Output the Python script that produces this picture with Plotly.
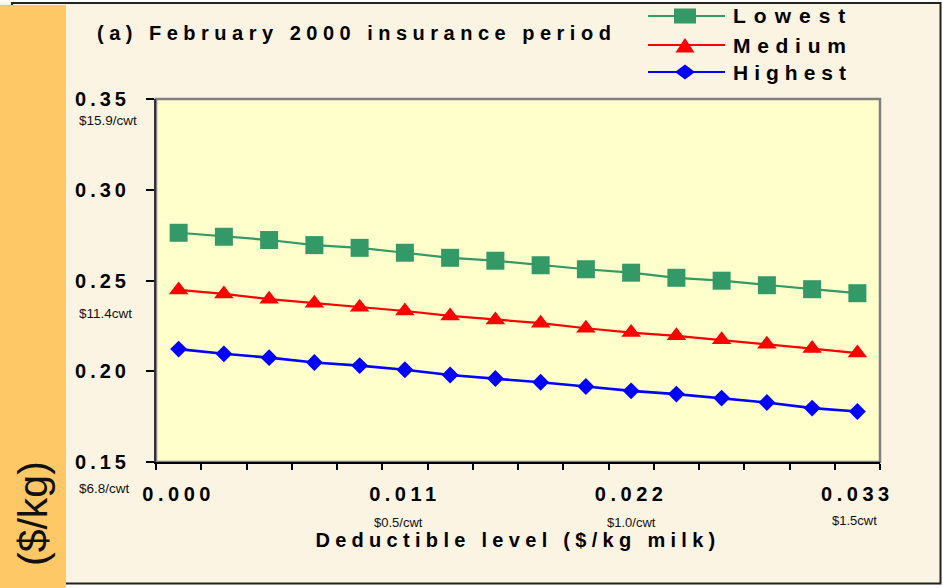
import plotly.graph_objects as go

# ---------------- data ----------------
deductible = [0.0000, 0.0022, 0.0044, 0.0066, 0.0088, 0.0110, 0.0132, 0.0154,
              0.0176, 0.0198, 0.0220, 0.0242, 0.0264, 0.0286, 0.0308, 0.0330]
lowest = [0.2763, 0.2741, 0.2723, 0.2695, 0.2680, 0.2653, 0.2625, 0.2609,
          0.2584, 0.2562, 0.2543, 0.2515, 0.2499, 0.2474, 0.2452, 0.2430]
medium = [0.2448, 0.2426, 0.2397, 0.2375, 0.2353, 0.2332, 0.2305, 0.2283,
          0.2265, 0.2237, 0.2213, 0.2195, 0.2173, 0.2149, 0.2125, 0.2100]
highest = [0.2122, 0.2096, 0.2075, 0.2048, 0.2031, 0.2008, 0.1979, 0.1960,
           0.1939, 0.1916, 0.1892, 0.1874, 0.1852, 0.1828, 0.1797, 0.1778]
series_names = ["Lowest", "Medium", "Highest"]

x_tick_vals = [0.000, 0.011, 0.022, 0.033]
x_tick_text = ["0.000", "0.011", "0.022", "0.033"]
x_sub_vals = [0.011, 0.022, 0.033]
x_sub_text = ["$0.5/cwt", "$1.0/cwt", "$1.5cwt"]
y_tick_vals = [0.15, 0.20, 0.25, 0.30, 0.35]
y_tick_text = ["0.15", "0.20", "0.25", "0.30", "0.35"]
y_sub_text = ["$15.9/cwt", "$11.4cwt", "$6.8/cwt"]

title_text = "(a) February 2000 insurance period"
x_title = "Deductible level ($/kg milk)"
y_side_text = "($/kg)"

# ---------------- geometry helpers (pixels -> paper) ----------------
W, H = 943, 588
L, R, T, B = 156, 63, 99, 126
PW, PH = W - L - R, H - T - B


def px(x):
    return (x - L) / PW


def py(y):
    return (H - B - y) / PH


def path(points):
    return "M " + " L ".join("%.5f,%.5f" % (px(a), py(b)) for a, b in points) + " Z"


FONT = "Liberation Sans, Arial, sans-serif"
CREAM = "#FCF4E3"
ORANGE = "#FEC866"

fig = go.Figure()
styles = [
    dict(color="#339966", symbol="square", size=18, lw=2.2),
    dict(color="#FF0000", symbol="triangle-up", size=17, lw=2.2),
    dict(color="#0000FF", symbol="diamond", size=13, lw=2.6),
]
for name, ys, st in zip(series_names, [lowest, medium, highest], styles):
    fig.add_trace(go.Scatter(
        x=deductible, y=ys, name=name, mode="lines+markers",
        line=dict(color=st["color"], width=st["lw"]),
        marker=dict(color=st["color"], symbol=st["symbol"], size=st["size"]),
        cliponaxis=False, showlegend=False,
    ))

shapes = [
    # white outer strips
    dict(type="rect", xref="paper", yref="paper", x0=px(-2), x1=px(W + 2), y0=py(-2), y1=py(2.2),
         fillcolor="white", line=dict(width=0), layer="below"),
    dict(type="rect", xref="paper", yref="paper", x0=px(941.5), x1=px(W + 2), y0=py(-2), y1=py(H + 2),
         fillcolor="white", line=dict(width=0), layer="below"),
    dict(type="rect", xref="paper", yref="paper", x0=px(-2), x1=px(W + 2), y0=py(584.5), y1=py(H + 2),
         fillcolor="white", line=dict(width=0), layer="below"),
    # outer frame
    dict(type="rect", xref="paper", yref="paper", x0=px(12), x1=px(940.5), y0=py(3), y1=py(583.5),
         line=dict(color="#222222", width=2), layer="below"),
    # orange side bar
    dict(type="rect", xref="paper", yref="paper", x0=px(-2), x1=px(66), y0=py(5), y1=py(H + 2),
         fillcolor=ORANGE, line=dict(width=0), layer="below"),
    # plot-area gray border (top/right)
    dict(type="rect", xref="paper", yref="paper", x0=0, x1=1, y0=0, y1=1,
         line=dict(color="#808080", width=2.5), layer="below"),
]

# hand-drawn legend keys (line + symbol)
leg_rows = [16, 45, 72]
leg_text_rows = [15, 46, 72]
leg_x0, leg_x1, leg_xm, leg_tx = 648, 725, 685, 731
for st, yy in zip(styles, leg_rows):
    shapes.append(dict(type="line", xref="paper", yref="paper", x0=px(leg_x0), x1=px(leg_x1),
                       y0=py(yy), y1=py(yy), line=dict(color=st["color"], width=2.2), layer="below"))
c0, c1, c2 = styles[0]["color"], styles[1]["color"], styles[2]["color"]
y0, y1, y2 = leg_rows
shapes.append(dict(type="rect", xref="paper", yref="paper",
                   x0=px(leg_xm - 11), x1=px(leg_xm + 11), y0=py(y0 - 7.5), y1=py(y0 + 7.5),
                   fillcolor=c0, line=dict(width=0), layer="below"))
shapes.append(dict(type="path", xref="paper", yref="paper",
                   path=path([(leg_xm - 9.5, y1 + 7.5), (leg_xm + 9.5, y1 + 7.5), (leg_xm, y1 - 7)]),
                   fillcolor=c1, line=dict(width=0), layer="below"))
shapes.append(dict(type="path", xref="paper", yref="paper",
                   path=path([(leg_xm - 10, y2), (leg_xm, y2 - 7.5), (leg_xm + 10, y2), (leg_xm, y2 + 7.5)]),
                   fillcolor=c2, line=dict(width=0), layer="below"))

annotations = []
for name, yy in zip(series_names, leg_text_rows):
    annotations.append(dict(x=px(leg_tx), xref="paper", y=py(yy), yref="paper", text=name,
                            showarrow=False, xanchor="left", yanchor="middle", align="left",
                            font=dict(family=FONT, size=21, color="#000000", weight="bold")))
for v, t, dx, yy in zip(x_sub_vals, x_sub_text, [-6, 0, -3], [522, 522, 520]):
    annotations.append(dict(x=v, xref="x", y=py(yy), yref="paper", text=t, showarrow=False,
                            xanchor="center", yanchor="middle", xshift=dx,
                            font=dict(family=FONT, size=13, color="#111111")))
for t, yy in zip(y_sub_text, [121, 313, 488]):
    annotations.append(dict(x=px(77), xref="paper", y=py(yy), yref="paper", text=t, showarrow=False,
                            xanchor="left", yanchor="middle",
                            font=dict(family=FONT, size=13.5, color="#111111")))
annotations.append(dict(x=px(33), xref="paper", y=py(513), yref="paper", text=y_side_text,
                        showarrow=False, textangle=-90, xanchor="center", yanchor="middle",
                        font=dict(family=FONT, size=41, color="#111111")))

fig.update_layout(
    width=W, height=H, autosize=False,
    margin=dict(l=L, r=R, t=T, b=B),
    paper_bgcolor=CREAM, plot_bgcolor="#FFFFCC",
    font=dict(family=FONT, color="#000000"),
    title=dict(text="<b>" + title_text + "</b>", x=97 / W, xref="container",
               xanchor="left", y=1 - 33 / H, yref="container", yanchor="middle",
               font=dict(family=FONT, size=20, color="#000000")),
    showlegend=False,
    xaxis=dict(range=[-0.0011, 0.0341], tickvals=x_tick_vals, ticktext=x_tick_text,
               ticks="", showgrid=False, zeroline=False,
               showline=True, linecolor="#000000", linewidth=2,
               tickfont=dict(family=FONT, size=20, color="#000000", weight="bold"),
               ticklabelstandoff=13,
               minor=dict(tick0=-0.0011, dtick=0.0022, ticks="outside", ticklen=6,
                          tickcolor="#000000", tickwidth=1.5, showgrid=False),
               title=dict(text=x_title, standoff=29,
                          font=dict(family=FONT, size=20, color="#000000", weight="bold"))),
    yaxis=dict(range=[0.15, 0.35], tickvals=y_tick_vals, ticktext=y_tick_text,
               ticks="outside", ticklen=8, tickwidth=1.5, tickcolor="#000000",
               showgrid=False, zeroline=False,
               showline=True, linecolor="#333333", linewidth=2,
               ticklabelstandoff=12,
               tickfont=dict(family=FONT, size=20, color="#000000", weight="bold")),
    shapes=shapes,
    annotations=annotations,
)

post = """
document.body.style.margin = '0';
var gd = document.getElementById('{plot_id}');
var legLS = {'Lowest': 8, 'Medium': 6.7, 'Highest': 6};
function applyLS(){
  var m = [['.gtitle',5.5],['.ytick text',4],['.xtick text',4.5],['.xtitle',5.3]];
  m.forEach(function(p){ gd.querySelectorAll(p[0]).forEach(function(e){ e.style.letterSpacing = p[1] + 'px'; }); });
  gd.querySelectorAll('.annotation-text').forEach(function(e){
    var fw = window.getComputedStyle(e).fontWeight;
    if (fw === 'bold' || parseInt(fw) >= 700) {
      var v = legLS[e.textContent.trim()] || 7;
      e.style.letterSpacing = v + 'px';
    }
  });
}
applyLS();
gd.on('plotly_afterplot', applyLS);
"""

fig.write_html("out.html", config={"displayModeBar": False}, post_script=post)
